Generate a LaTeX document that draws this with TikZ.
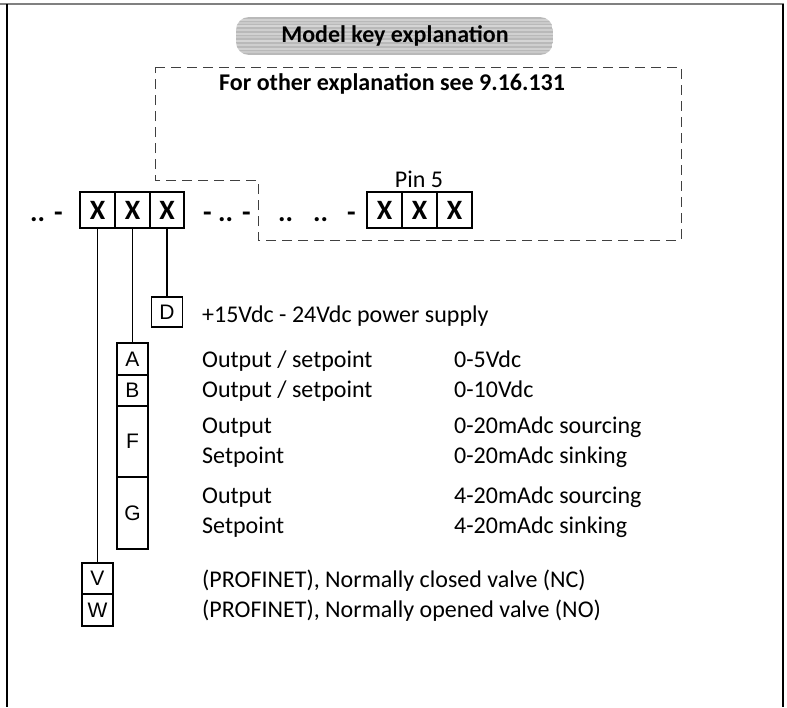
\documentclass[tikz,border=0pt]{standalone}
\usepackage{fontspec}
\setmainfont{Carlito}
\newfontfamily\arialf{Liberation Sans}
\begin{document}
\begin{tikzpicture}[x=1pt,y=-1pt,
  keybox/.style={draw=black,line width=1.3pt,minimum width=35pt,minimum height=36pt,inner sep=0pt,font=\bfseries\fontsize{28}{30}\selectfont},
  letbox/.style={draw=black,line width=1.2pt,minimum width=31pt,inner sep=0pt,font=\arialf\fontsize{21}{23}\selectfont},
  lbl/.style={anchor=base west,inner sep=0pt,font=\fontsize{24}{28}\selectfont},
  sep/.style={anchor=base west,inner sep=0pt,font=\bfseries\fontsize{28}{30}\selectfont},
  wire/.style={line width=1.2pt}]
\useasboundingbox (0,0) rectangle (787,707);
% frame
\draw[gray,line width=1.6pt] (0,4) -- (784,4);
\draw[black,line width=1.5pt] (7,4) -- (7,707);
\draw[black,line width=1.5pt] (783,4) -- (783,707);
% banner
\begin{scope}
\clip[rounded corners=13pt] (236,17) rectangle (553,55);
\fill[gray!55] (236,17) rectangle (553,55);
\foreach \yy/\op in {20/0.35,23/0.25,26/0.4,30/0.3,34/0.35,37/0.25,41/0.4,45/0.3,49/0.35,52/0.25}
  \draw[white,opacity=\op,line width=1.2pt] (236,\yy) -- (553,\yy);
\end{scope}
\node[inner sep=0pt,font=\bfseries\fontsize{24}{28}\selectfont] (title) at (395,36) {Model key explanation};
% dashed region
\draw[black!75,line width=1pt,dash pattern=on 10pt off 6pt]
  (155,67) -- (681,67) -- (681,240) -- (258,240) -- (258,180) -- (155,180) -- cycle;
\node[anchor=base west,inner sep=0pt,font=\bfseries\fontsize{24}{28}\selectfont] (other) at (219,90) {For other explanation see 9.16.131};
% key boxes left
\node[keybox] (x1) at (97.5,210) {X};
\node[keybox] (x2) at (132.5,210) {X};
\node[keybox,minimum width=34pt] (x3) at (167,210) {X};
% key boxes right
\node[keybox] (r1) at (384.5,210) {X};
\node[keybox] (r2) at (419.5,210) {X};
\node[keybox] (r3) at (454.5,210) {X};
\node[anchor=base,inner sep=0pt,font=\fontsize{24}{28}\selectfont] (pin) at (419,187) {Pin 5};
% separators
\node[sep] (s1) at (30,221) {..};
\node[sep] (s2) at (54,221) {-};
\node[sep] (s3) at (203,221) {-};
\node[sep] (s4) at (218,221) {..};
\node[sep] (s5) at (242,221) {-};
\node[sep] (s6) at (278,221) {..};
\node[sep] (s7) at (313,221) {..};
\node[sep] (s8) at (347,221) {-};
% letter boxes
\node[letbox,minimum height=30pt] (D) at (167,312) {D};
\node[letbox,minimum height=32pt] (A) at (132.5,359) {A};
\node[letbox,minimum height=31pt] (B) at (132.5,390.5) {B};
\node[letbox,minimum height=71pt] (F) at (132.5,441.5) {F};
\node[letbox,minimum height=72pt] (G) at (132.5,513) {G};
\node[letbox,minimum height=31pt] (V) at (97.5,578.5) {V};
\node[letbox,minimum height=32pt] (W) at (97.5,610) {W};
% wires
\draw[wire] (x1.south) -- (V.north);
\draw[wire] (x2.south) -- (A.north);
\draw[wire] (x3.south) -- (D.north);
% descriptions
\node[lbl] (tD) at (202,322) {+15Vdc - 24Vdc power supply};
\node[lbl] (tA) at (202,367) {Output / setpoint};
\node[lbl] (vA) at (454,367) {0-5Vdc};
\node[lbl] (tB) at (202,397) {Output / setpoint};
\node[lbl] (vB) at (454,397) {0-10Vdc};
\node[lbl] (tF1) at (202,433) {Output};
\node[lbl] (vF1) at (454,433) {0-20mAdc sourcing};
\node[lbl] (tF2) at (202,463) {Setpoint};
\node[lbl] (vF2) at (454,463) {0-20mAdc sinking};
\node[lbl] (tG1) at (202,503) {Output};
\node[lbl] (vG1) at (454,503) {4-20mAdc sourcing};
\node[lbl] (tG2) at (202,533) {Setpoint};
\node[lbl] (vG2) at (454,533) {4-20mAdc sinking};
\node[lbl] (tV) at (202,587) {(PROFINET), Normally closed valve (NC)};
\node[lbl] (tW) at (202,617) {(PROFINET), Normally opened valve (NO)};
\end{tikzpicture}
\end{document}
